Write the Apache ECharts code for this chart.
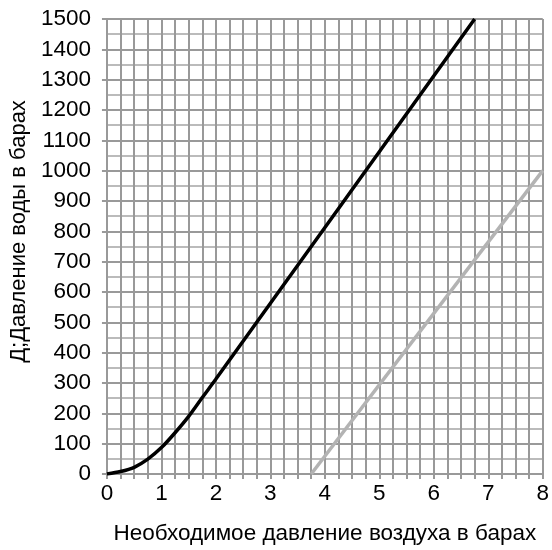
<!DOCTYPE html>
<html>
<head>
<meta charset="utf-8">
<script src="https://cdn.jsdelivr.net/npm/echarts@6/dist/echarts.min.js"></script>
<style>
html, body { margin: 0; padding: 0; background: #fff; }
#chart { width: 552px; height: 550px; }
</style>
</head>
<body>
<div id="chart"></div>
<script>
// water pressure curve (black)
const waterX = [0, 0.25, 0.5, 0.75, 1, 1.25, 1.5, 1.75, 2, 6.75]
const waterY = [0, 8, 22, 49, 87, 136, 190, 252, 313, 1500]
// second line (grey)
const greyX = [3.75, 8]
const greyY = [0, 1000]

const xName = 'Необходимое давление воздуха в барах'
const yName = 'Д;Давление воды в барах'

const pairs = (xs, ys) => xs.map((x, i) => [x, ys[i]])

const font = 'Liberation Sans, Arial, sans-serif'
const charts = echarts.init(document.getElementById('chart'))
charts.setOption({
    animation: false,
    grid: { left: 105, right: 8, top: 19, bottom: 73, containLabel: false },
    xAxis: {
        type: 'value',
        min: 0,
        max: 8,
        interval: 1,
        name: xName,
        nameLocation: 'middle',
        nameGap: 48,
        nameTextStyle: { fontFamily: font, fontSize: 22.5, color: '#000' },
        axisLine: { show: true, onZero: false, lineStyle: { color: '#999', width: 2 } },
        axisTick: { show: true, length: 5, lineStyle: { color: '#999', width: 2 } },
        minorTick: { show: true, splitNumber: 4, length: 5, lineStyle: { color: '#999', width: 2 } },
        axisLabel: { fontFamily: font, fontSize: 22.5, color: '#000', margin: 8, formatter: v => String(v) },
        splitLine: { show: true, lineStyle: { color: '#999', width: 2 } },
        minorSplitLine: { show: true, lineStyle: { color: '#999', width: 2 } }
    },
    yAxis: {
        type: 'value',
        min: 0,
        max: 1500,
        interval: 100,
        name: yName,
        nameLocation: 'middle',
        nameGap: 76,
        nameTextStyle: { fontFamily: font, fontSize: 22, color: '#000', padding: [0, 0, 0, 30] },
        axisLine: { show: true, lineStyle: { color: '#999', width: 2 } },
        axisTick: { show: true, length: 5, lineStyle: { color: '#999', width: 2 } },
        minorTick: { show: false, splitNumber: 2 },
        axisLabel: { fontFamily: font, fontSize: 22.5, color: '#000', margin: 16, formatter: v => String(v) },
        splitLine: { show: true, lineStyle: { color: '#999', width: 2 } },
        minorSplitLine: { show: true, lineStyle: { color: '#bbb', width: 2 } }
    },
    series: [
        {
            type: 'line',
            data: pairs(waterX, waterY),
            smooth: 0.3,
            symbol: 'none',
            lineStyle: { color: '#000', width: 3.5 }
        },
        {
            type: 'line',
            data: pairs(greyX, greyY),
            symbol: 'none',
            lineStyle: { color: '#b3b3b3', width: 3.5 }
        }
    ]
})
</script>
</body>
</html>
